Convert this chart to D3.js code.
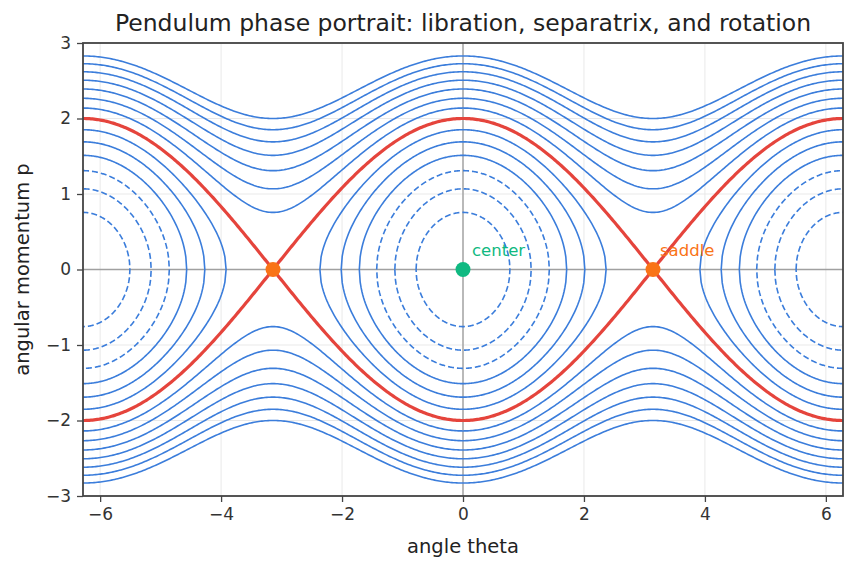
<!DOCTYPE html>
<html>
<head>
<meta charset="utf-8">
<script src="https://cdn.jsdelivr.net/npm/d3@7"></script>
<style>
  body { margin: 0; background: #fff; }
  text { font-family: "DejaVu Sans", sans-serif; }
</style>
</head>
<body>
<script>
// energy levels H = p^2/2 - cos(theta)
const librationLevels = [-0.714, -0.429, -0.143, 0.143, 0.429, 0.714];
const separatrixLevel = 1.0;
const rotationLevels = [1.286, 1.571, 1.857, 2.143, 2.429, 2.714, 3.0];
// wells centred at these angles
const wellCenters = [-2 * Math.PI, 0, 2 * Math.PI];
const centerPoints = [{theta: 0, p: 0}];
const saddlePoints = [{theta: -Math.PI, p: 0}, {theta: Math.PI, p: 0}];
const xTicks = [-6, -4, -2, 0, 2, 4, 6];
const yTicks = [-3, -2, -1, 0, 1, 2, 3];

const width = 856, height = 569;
const margin = {top: 43, right: 13, bottom: 73, left: 83};

const svg = d3.select('body')
  .append('svg')
  .attr('width', width)
  .attr('height', height);

const x = d3.scaleLinear()
  .domain([-2 * Math.PI, 2 * Math.PI])
  .range([margin.left, width - margin.right]);
const y = d3.scaleLinear()
  .domain([-3, 3])
  .range([height - margin.bottom, margin.top]);

svg.append('defs').append('clipPath')
  .attr('id', 'plot')
  .append('rect')
  .attr('x', margin.left).attr('y', margin.top)
  .attr('width', x.range()[1] - x.range()[0])
  .attr('height', y.range()[0] - y.range()[1]);

// grid
const grid = svg.append('g');
grid.selectAll('.gx').data(xTicks).join('line')
  .attr('x1', d => x(d)).attr('x2', d => x(d))
  .attr('y1', y(-3)).attr('y2', y(3))
  .attr('stroke', '#e6e6e6').attr('stroke-width', 0.9);
grid.selectAll('.gy').data(yTicks).join('line')
  .attr('y1', d => y(d)).attr('y2', d => y(d))
  .attr('x1', x.range()[0]).attr('x2', x.range()[1])
  .attr('stroke', '#e6e6e6').attr('stroke-width', 0.9);

// zero lines
svg.append('line')
  .attr('x1', x(0)).attr('x2', x(0)).attr('y1', y(-3)).attr('y2', y(3))
  .attr('stroke', '#a0a0a0').attr('stroke-width', 1.4);
svg.append('line')
  .attr('y1', y(0)).attr('y2', y(0)).attr('x1', x.range()[0]).attr('x2', x.range()[1])
  .attr('stroke', '#a0a0a0').attr('stroke-width', 1.4);

const line = d3.line().x(d => x(d[0])).y(d => y(d[1]));
const N = 240;

// closed orbit around a well
function librationPath(H, c) {
  const a = Math.acos(-H);
  const top = d3.range(N + 1).map(i => {
    const t = -a + 2 * a * i / N;
    return [c + t, Math.sqrt(Math.max(0, 2 * (H + Math.cos(t))))];
  });
  const bottom = top.slice().reverse().map(d => [d[0], -d[1]]);
  return top.concat(bottom);
}

// open orbit over the full range
function rotationPath(H, sign) {
  return d3.range(N * 2 + 1).map(i => {
    const t = -2 * Math.PI + 4 * Math.PI * i / (N * 2);
    return [t, sign * Math.sqrt(Math.max(0, 2 * (H + Math.cos(t))))];
  });
}

const curves = svg.append('g').attr('clip-path', 'url(#plot)');
const blue = '#3b7ddb';

librationLevels.forEach(H => {
  wellCenters.forEach(c => {
    curves.append('path')
      .attr('d', line(librationPath(H, c)))
      .attr('fill', 'none')
      .attr('stroke', blue)
      .attr('stroke-width', 1.6)
      .attr('stroke-dasharray', H < 0 ? '6,3' : null);
  });
});

rotationLevels.forEach(H => {
  [1, -1].forEach(s => {
    curves.append('path')
      .attr('d', line(rotationPath(H, s)))
      .attr('fill', 'none')
      .attr('stroke', blue)
      .attr('stroke-width', 1.6);
  });
});

[1, -1].forEach(s => {
  curves.append('path')
    .attr('d', line(rotationPath(separatrixLevel, s)))
    .attr('fill', 'none')
    .attr('stroke', '#e5443c')
    .attr('stroke-width', 3.2);
});

// fixed points
svg.selectAll('.center').data(centerPoints).join('circle')
  .attr('cx', d => x(d.theta)).attr('cy', d => y(d.p))
  .attr('r', 7.5).attr('fill', '#10b981');
svg.selectAll('.saddle').data(saddlePoints).join('circle')
  .attr('cx', d => x(d.theta)).attr('cy', d => y(d.p))
  .attr('r', 7.5).attr('fill', '#f97316');

svg.append('text')
  .attr('x', x(0) + 9).attr('y', y(0) - 14)
  .attr('font-size', 16.5).attr('fill', '#10b981')
  .text('center');
svg.append('text')
  .attr('x', x(Math.PI) + 7).attr('y', y(0) - 14)
  .attr('font-size', 16.5).attr('fill', '#f97316')
  .text('saddle');

// frame
svg.append('rect')
  .attr('x', margin.left).attr('y', margin.top)
  .attr('width', x.range()[1] - x.range()[0])
  .attr('height', y.range()[0] - y.range()[1])
  .attr('fill', 'none').attr('stroke', '#444').attr('stroke-width', 1.8);

// axes
const xAxis = svg.append('g')
  .attr('transform', `translate(0,${y(-3)})`)
  .call(d3.axisBottom(x).tickValues(xTicks).tickFormat(d3.format('d')).tickSize(6).tickPadding(6));
const yAxis = svg.append('g')
  .attr('transform', `translate(${x.range()[0]},0)`)
  .call(d3.axisLeft(y).tickValues(yTicks).tickFormat(d3.format('d')).tickSize(6).tickPadding(6));
[xAxis, yAxis].forEach(a => {
  a.select('.domain').remove();
  a.selectAll('line').attr('stroke', '#444').attr('stroke-width', 1.3);
  a.selectAll('text').attr('font-size', 17).attr('fill', '#333')
    .attr('font-family', '"DejaVu Sans", sans-serif');
});

svg.append('text')
  .attr('x', (x.range()[0] + x.range()[1]) / 2).attr('y', 553)
  .attr('text-anchor', 'middle').attr('font-size', 19.5).attr('fill', '#222')
  .text('angle theta');
svg.append('text')
  .attr('transform', `translate(29,${(y.range()[0] + y.range()[1]) / 2}) rotate(-90)`)
  .attr('text-anchor', 'middle').attr('font-size', 19.5).attr('fill', '#222')
  .text('angular momentum p');
svg.append('text')
  .attr('x', (x.range()[0] + x.range()[1]) / 2).attr('y', 31)
  .attr('text-anchor', 'middle').attr('font-size', 23.5).attr('fill', '#222')
  .text('Pendulum phase portrait: libration, separatrix, and rotation');
</script>
</body>
</html>
